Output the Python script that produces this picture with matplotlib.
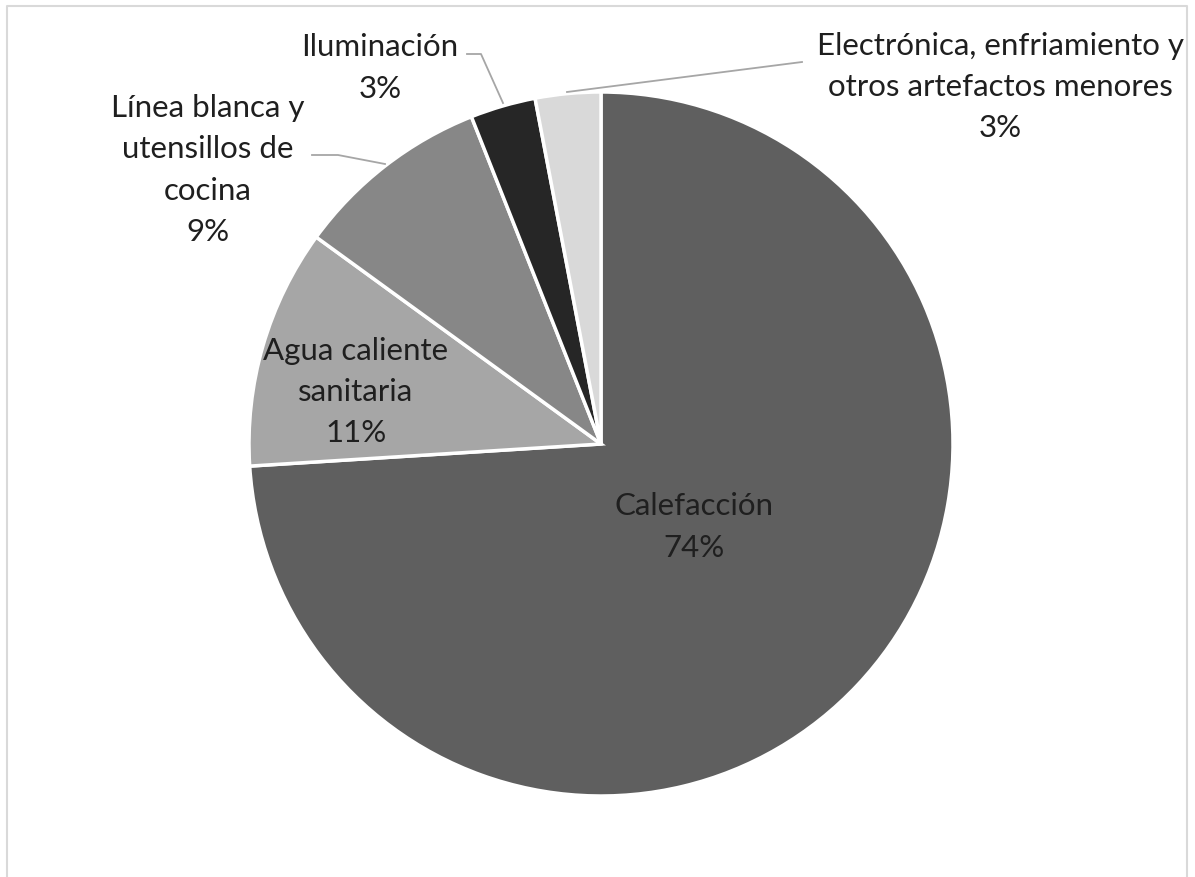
import matplotlib.pyplot as plt
from matplotlib.lines import Line2D

# data
labels = ['Calefacción', 'Agua caliente\nsanitaria', 'Línea blanca y\nutensillos de\ncocina',
          'Iluminación', 'Electrónica, enfriamiento y\notros artefactos menores']
values = [74, 11, 9, 3, 3]
colors = ['#5f5f5f', '#a6a6a6', '#878787', '#262626', '#d9d9d9']

W, H = 1195, 878
cx, cy, R = 601, 445, 352   # pie centre / radius in pixels

def px(x, y):
    # pixel (from top-left) -> data units of the pie
    return (x - cx) / R, (cy - y) / R

plt.rcParams['font.family'] = ['Lato', 'DejaVu Sans']

fig = plt.figure(figsize=(W / 100, H / 100), dpi=100)
ax = fig.add_axes([0, 0, 1, 1])

wedges, _ = ax.pie(values, colors=colors, startangle=90, counterclock=False, radius=1,
                   wedgeprops=dict(edgecolor='white', linewidth=2.5))
# pie() resets the limits, so set them afterwards
ax.set_xlim(-cx / R, (W - cx) / R)
ax.set_ylim(-(H - cy) / R, cy / R)
ax.axis('off')

fs = 22.5
pct = [f'{v}%' for v in values]

# label positions (pixels, centre of text block)
pos = [(694, 527), (356, 392), (208, 170), (380, 68), (1000, 87)]
for lab, p, (x, y) in zip(labels, pct, pos):
    tx, ty = px(x, y)
    ax.text(tx, ty, lab + '\n' + p, ha='center', va='center', fontsize=fs,
            color='#1f1f1f', linespacing=1.58)

# leader lines
leaders = [
    [(312, 156), (338, 156), (385, 165)],
    [(467, 55), (481, 55), (503, 104)],
    [(567, 93), (802, 63)],
]
for pts in leaders:
    xs, ys = zip(*[px(a, b) for a, b in pts])
    ax.add_line(Line2D(xs, ys, color='#a6a6a6', lw=1.3))

# chart frame (bottom edge cut off)
fc = '#d9d9d9'
fig.add_artist(Line2D([7 / W, 7 / W, 1187 / W, 1187 / W], [0, 1 - 7 / H, 1 - 7 / H, 0],
                      transform=fig.transFigure, color=fc, lw=1.5))

fig.savefig('out.png', dpi=100)
